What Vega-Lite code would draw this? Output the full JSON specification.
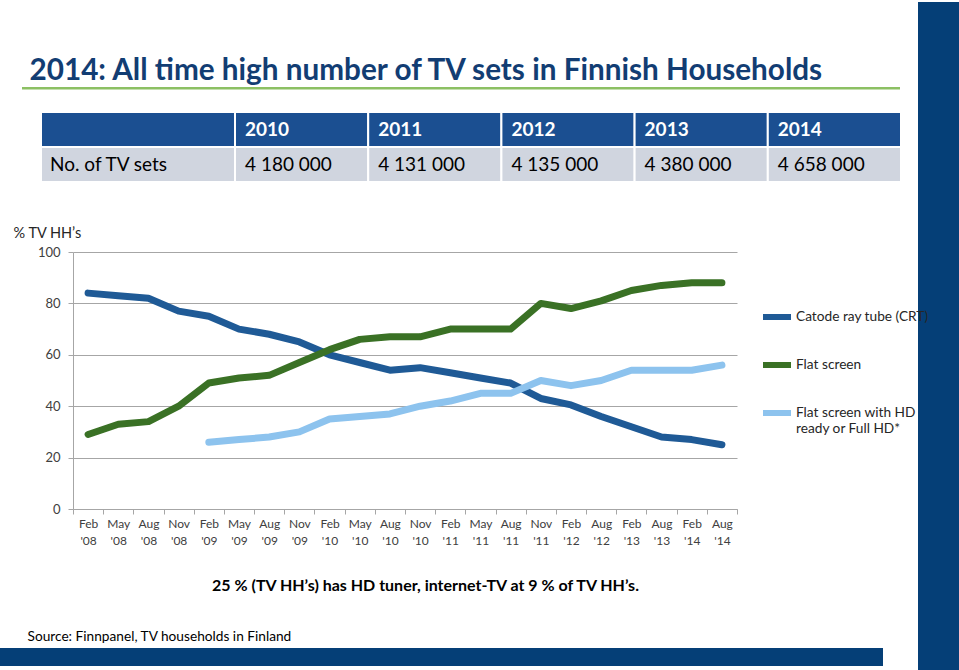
{
  "$schema": "https://vega.github.io/schema/vega-lite/v6.json",
  "width": 664,
  "height": 257,
  "autosize": {"type": "none"},
  "padding": {"left": 73, "top": 252, "right": 222, "bottom": 161},
  "background": "white",
  "config": {"view": {"stroke": null}, "font": "Lato"},
  "datasets": {
    "tv": [
      {"period": "Feb '08", "series": "Catode ray tube (CRT)", "pct": 84},
      {"period": "May '08", "series": "Catode ray tube (CRT)", "pct": 83},
      {"period": "Aug '08", "series": "Catode ray tube (CRT)", "pct": 82},
      {"period": "Nov '08", "series": "Catode ray tube (CRT)", "pct": 77},
      {"period": "Feb '09", "series": "Catode ray tube (CRT)", "pct": 75},
      {"period": "May '09", "series": "Catode ray tube (CRT)", "pct": 70},
      {"period": "Aug '09", "series": "Catode ray tube (CRT)", "pct": 68},
      {"period": "Nov '09", "series": "Catode ray tube (CRT)", "pct": 65},
      {"period": "Feb '10", "series": "Catode ray tube (CRT)", "pct": 60},
      {"period": "May '10", "series": "Catode ray tube (CRT)", "pct": 57},
      {"period": "Aug '10", "series": "Catode ray tube (CRT)", "pct": 54},
      {"period": "Nov '10", "series": "Catode ray tube (CRT)", "pct": 55},
      {"period": "Feb '11", "series": "Catode ray tube (CRT)", "pct": 53},
      {"period": "May '11", "series": "Catode ray tube (CRT)", "pct": 51},
      {"period": "Aug '11", "series": "Catode ray tube (CRT)", "pct": 49},
      {"period": "Nov '11", "series": "Catode ray tube (CRT)", "pct": 43},
      {"period": "Feb '12", "series": "Catode ray tube (CRT)", "pct": 40.5},
      {"period": "Aug '12", "series": "Catode ray tube (CRT)", "pct": 36},
      {"period": "Feb '13", "series": "Catode ray tube (CRT)", "pct": 32},
      {"period": "Aug '13", "series": "Catode ray tube (CRT)", "pct": 28},
      {"period": "Feb '14", "series": "Catode ray tube (CRT)", "pct": 27},
      {"period": "Aug '14", "series": "Catode ray tube (CRT)", "pct": 25},
      {"period": "Feb '08", "series": "Flat screen", "pct": 29},
      {"period": "May '08", "series": "Flat screen", "pct": 33},
      {"period": "Aug '08", "series": "Flat screen", "pct": 34},
      {"period": "Nov '08", "series": "Flat screen", "pct": 40},
      {"period": "Feb '09", "series": "Flat screen", "pct": 49},
      {"period": "May '09", "series": "Flat screen", "pct": 51},
      {"period": "Aug '09", "series": "Flat screen", "pct": 52},
      {"period": "Nov '09", "series": "Flat screen", "pct": 57},
      {"period": "Feb '10", "series": "Flat screen", "pct": 62},
      {"period": "May '10", "series": "Flat screen", "pct": 66},
      {"period": "Aug '10", "series": "Flat screen", "pct": 67},
      {"period": "Nov '10", "series": "Flat screen", "pct": 67},
      {"period": "Feb '11", "series": "Flat screen", "pct": 70},
      {"period": "May '11", "series": "Flat screen", "pct": 70},
      {"period": "Aug '11", "series": "Flat screen", "pct": 70},
      {"period": "Nov '11", "series": "Flat screen", "pct": 80},
      {"period": "Feb '12", "series": "Flat screen", "pct": 78},
      {"period": "Aug '12", "series": "Flat screen", "pct": 81},
      {"period": "Feb '13", "series": "Flat screen", "pct": 85},
      {"period": "Aug '13", "series": "Flat screen", "pct": 87},
      {"period": "Feb '14", "series": "Flat screen", "pct": 88},
      {"period": "Aug '14", "series": "Flat screen", "pct": 88},
      {"period": "Feb '09", "series": "Flat screen with HD ready or Full HD*", "pct": 26},
      {"period": "May '09", "series": "Flat screen with HD ready or Full HD*", "pct": 27},
      {"period": "Aug '09", "series": "Flat screen with HD ready or Full HD*", "pct": 28},
      {"period": "Nov '09", "series": "Flat screen with HD ready or Full HD*", "pct": 30},
      {"period": "Feb '10", "series": "Flat screen with HD ready or Full HD*", "pct": 35},
      {"period": "May '10", "series": "Flat screen with HD ready or Full HD*", "pct": 36},
      {"period": "Aug '10", "series": "Flat screen with HD ready or Full HD*", "pct": 37},
      {"period": "Nov '10", "series": "Flat screen with HD ready or Full HD*", "pct": 40},
      {"period": "Feb '11", "series": "Flat screen with HD ready or Full HD*", "pct": 42},
      {"period": "May '11", "series": "Flat screen with HD ready or Full HD*", "pct": 45},
      {"period": "Aug '11", "series": "Flat screen with HD ready or Full HD*", "pct": 45},
      {"period": "Nov '11", "series": "Flat screen with HD ready or Full HD*", "pct": 50},
      {"period": "Feb '12", "series": "Flat screen with HD ready or Full HD*", "pct": 48},
      {"period": "Aug '12", "series": "Flat screen with HD ready or Full HD*", "pct": 50},
      {"period": "Feb '13", "series": "Flat screen with HD ready or Full HD*", "pct": 54},
      {"period": "Aug '13", "series": "Flat screen with HD ready or Full HD*", "pct": 54},
      {"period": "Feb '14", "series": "Flat screen with HD ready or Full HD*", "pct": 54},
      {"period": "Aug '14", "series": "Flat screen with HD ready or Full HD*", "pct": 56}
    ],
    "tableLabel": [
      {"col": "label", "row": "head", "text": ""},
      {"col": "label", "row": "body", "text": "No. of  TV sets"}
    ],
    "tableYears": [
      {"col": "2010", "row": "head", "text": "2010"},
      {"col": "2011", "row": "head", "text": "2011"},
      {"col": "2012", "row": "head", "text": "2012"},
      {"col": "2013", "row": "head", "text": "2013"},
      {"col": "2014", "row": "head", "text": "2014"},
      {"col": "2010", "row": "body", "text": "4 180 000"},
      {"col": "2011", "row": "body", "text": "4 131 000"},
      {"col": "2012", "row": "body", "text": "4 135 000"},
      {"col": "2013", "row": "body", "text": "4 380 000"},
      {"col": "2014", "row": "body", "text": "4 658 000"}
    ],
    "titleRule": [{"part": "title rule"}],
    "sideBar": [{"part": "side bar"}],
    "bottomBand": [{"part": "bottom band"}]
  },
  "layer": [
    {
      "data": {"name": "tv"},
      "mark": {"type": "line", "strokeWidth": 7, "strokeCap": "round", "strokeJoin": "round"},
      "encoding": {
        "x": {
          "field": "period", "type": "ordinal",
          "scale": {"type": "band", "paddingInner": 0, "paddingOuter": 0,
            "domain": ["Feb '08","May '08","Aug '08","Nov '08","Feb '09","May '09","Aug '09","Nov '09","Feb '10","May '10","Aug '10","Nov '10","Feb '11","May '11","Aug '11","Nov '11","Feb '12","Aug '12","Feb '13","Aug '13","Feb '14","Aug '14"]},
          "axis": {
            "orient": "bottom", "labelAngle": 0, "labelExpr": "split(datum.label, ' ')",
            "labelFontSize": 12, "labelColor": "#404040", "labelLineHeight": 17, "labelPadding": 4,
            "tickBand": "extent", "tickSize": 5, "tickColor": "#a6a6a6", "domainColor": "#a6a6a6",
            "title": "25 % (TV HH’s) has HD tuner, internet-TV  at 9 % of TV HH’s.",
            "titleFontSize": 16, "titleFontWeight": "bold", "titleColor": "#000000",
            "titleX": 352, "titleY": 76, "titleAlign": "center", "titleBaseline": "middle"
          }
        },
        "y": {
          "field": "pct", "type": "quantitative",
          "scale": {"domain": [0, 100], "nice": false},
          "axis": {
            "orient": "left", "values": [0, 20, 40, 60, 80, 100],
            "grid": true, "gridColor": "#a6a6a6", "domainColor": "#a6a6a6", "tickColor": "#a6a6a6",
            "tickSize": 5, "labelFontSize": 13, "labelColor": "#404040", "labelPadding": 8,
            "title": "% TV HH’s", "titleAngle": 0, "titleX": -60, "titleY": -19,
            "titleAlign": "left", "titleBaseline": "middle", "titleFontWeight": "normal",
            "titleFontSize": 14.5, "titleColor": "#262626"
          }
        },
        "color": {
          "field": "series", "type": "nominal",
          "scale": {"domain": ["Catode ray tube (CRT)", "Flat screen", "Flat screen with HD ready or Full HD*"],
                    "range": ["#1f5a96", "#3a7125", "#8dc3ee"]},
          "legend": {
            "orient": "none", "legendX": 687, "legendY": 48, "title": null, "padding": 0,
            "symbolType": "stroke", "symbolStrokeWidth": 6, "symbolSize": 784,
            "labelFontSize": 13.7, "labelColor": "#262626", "labelOffset": 2, "labelLimit": 300,
            "rowPadding": 19,
            "labelExpr": "datum.label == 'Flat screen with HD ready or Full HD*' ? ['Flat screen with HD', 'ready or Full HD*'] : datum.label"
          }
        }
      }
    },
    {
      "data": {"name": "tableLabel"},
      "encoding": {
        "x": {"field": "col", "type": "nominal", "scale": {"type": "band", "range": [-32, 162], "paddingInner": 0, "paddingOuter": 0}, "axis": null},
        "y": {"field": "row", "type": "nominal", "scale": {"type": "band", "domain": ["head", "body"], "range": [-140, -70], "paddingInner": 0, "paddingOuter": 0}, "axis": null}
      },
      "layer": [
        {
          "mark": {"type": "rect", "stroke": "white", "strokeWidth": 2},
          "encoding": {"color": {"condition": {"test": "datum.row === 'head'", "value": "#1b4f91"}, "value": "#d0d5df"}}
        },
        {
          "transform": [{"filter": "datum.row === 'body'"}],
          "mark": {"type": "text", "align": "left", "dx": 9, "fontSize": 19, "color": "#000000"},
          "encoding": {"x": {"field": "col", "type": "nominal", "bandPosition": 0}, "text": {"field": "text"}}
        }
      ]
    },
    {
      "data": {"name": "tableYears"},
      "encoding": {
        "x": {"field": "col", "type": "nominal", "scale": {"type": "band", "domain": ["2010", "2011", "2012", "2013", "2014"], "range": [162, 828], "paddingInner": 0, "paddingOuter": 0}, "axis": null},
        "y": {"field": "row", "type": "nominal", "scale": {"type": "band", "domain": ["head", "body"], "range": [-140, -70], "paddingInner": 0, "paddingOuter": 0}, "axis": null}
      },
      "layer": [
        {
          "mark": {"type": "rect", "stroke": "white", "strokeWidth": 2},
          "encoding": {"color": {"condition": {"test": "datum.row === 'head'", "value": "#1b4f91"}, "value": "#d0d5df"}}
        },
        {
          "transform": [{"filter": "datum.row === 'head'"}],
          "mark": {"type": "text", "align": "left", "dx": 10, "fontSize": 19, "fontWeight": "bold", "color": "#ffffff"},
          "encoding": {"x": {"field": "col", "type": "nominal", "bandPosition": 0}, "text": {"field": "text"}}
        },
        {
          "transform": [{"filter": "datum.row === 'body'"}],
          "mark": {"type": "text", "align": "left", "dx": 10, "fontSize": 19, "color": "#000000"},
          "encoding": {"x": {"field": "col", "type": "nominal", "bandPosition": 0}, "text": {"field": "text"}}
        }
      ]
    },
    {
      "data": {"name": "titleRule"},
      "mark": {"type": "rect", "color": "#8cc063"},
      "encoding": {
        "x": {"field": "part", "type": "nominal", "scale": {"type": "band", "range": [-51, 827], "paddingInner": 0, "paddingOuter": 0},
          "axis": {"orient": "top", "labels": false, "ticks": false, "domain": false, "grid": false,
            "title": "2014: All time high number of TV sets in Finnish Households",
            "titleX": -44, "titleY": -173, "titleAlign": "left", "titleBaseline": "alphabetic",
            "titleFontSize": 29.7, "titleFontWeight": "bold", "titleColor": "#123d73"}},
        "y": {"field": "part", "type": "nominal", "scale": {"type": "band", "range": [-165, -162.5], "paddingInner": 0, "paddingOuter": 0}, "axis": null}
      }
    },
    {
      "data": {"name": "sideBar"},
      "mark": {"type": "rect", "color": "#053f77"},
      "encoding": {
        "x": {"field": "part", "type": "nominal", "scale": {"type": "band", "range": [845, 886], "paddingInner": 0, "paddingOuter": 0}, "axis": null},
        "y": {"field": "part", "type": "nominal", "scale": {"type": "band", "range": [-250, 418], "paddingInner": 0, "paddingOuter": 0}, "axis": null}
      }
    },
    {
      "data": {"name": "bottomBand"},
      "mark": {"type": "rect", "color": "#053f77"},
      "encoding": {
        "x": {"field": "part", "type": "nominal", "scale": {"type": "band", "range": [-73, 810], "paddingInner": 0, "paddingOuter": 0},
          "axis": {"orient": "bottom", "labels": false, "ticks": false, "domain": false, "grid": false,
            "title": "Source: Finnpanel, TV households in Finland",
            "titleX": -46, "titleY": 131, "titleAlign": "left", "titleBaseline": "alphabetic",
            "titleFontSize": 13.7, "titleFontWeight": "normal", "titleColor": "#000000"}},
        "y": {"field": "part", "type": "nominal", "scale": {"type": "band", "range": [396, 414], "paddingInner": 0, "paddingOuter": 0}, "axis": null}
      }
    }
  ],
  "resolve": {"scale": {"x": "independent", "y": "independent"}, "axis": {"x": "independent", "y": "independent"}}
}
